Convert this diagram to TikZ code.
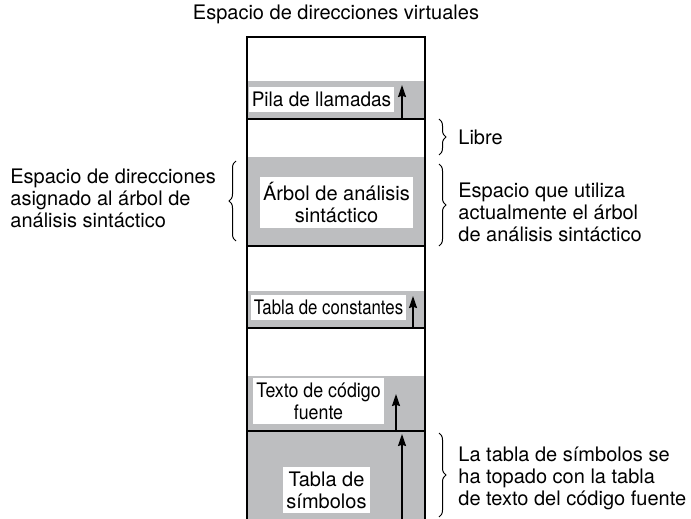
\documentclass[tikz,border=0pt]{standalone}
\usepackage{fontspec}
\setmainfont{TeX Gyre Heros}
\usepackage{graphicx}
\usetikzlibrary{arrows.meta,decorations.pathreplacing}
\definecolor{segfill}{RGB}{189,190,192}
\newcommand{\narrow}[2]{\scalebox{#1}[1]{#2}}

\begin{document}
\begin{tikzpicture}[x=0.5pt,y=-0.5pt,
  seg/.style={fill=segfill},
  wall/.style={line width=1pt},
  seglabel/.style={fill=white,inner xsep=1.5pt,inner ysep=2.5pt,align=center},
  note/.style={anchor=west,align=left,inner sep=0pt},
  growth/.style={-{Stealth[length=6pt,width=4pt,inset=0.6pt]},line width=0.75pt},
  curly/.style={decorate,decoration={brace,amplitude=3.5pt},line width=0.5pt},
  every node/.style={font=\fontsize{10}{11}\selectfont}]
 \useasboundingbox (0,0) rectangle (691,519);
 % filled parts of the address space, top to bottom
 \fill[seg] (247,81) rectangle (425,119);
 \fill[seg] (247,157) rectangle (425,246);
 \fill[seg] (247,291) rectangle (425,328);
 \fill[seg] (247,376) rectangle (425,519);
 \draw[wall] (247,519) -- (247,37) -- (425,37) -- (425,519);
 \foreach \yy in {119,246,328,431} \draw[wall] (247,\yy) -- (425,\yy);

 \node (title) at (336,14) {Espacio de direcciones virtuales};
 \node[seglabel] (pila) at (321.5,99.5) {\narrow{0.95}{Pila de llamadas}};
 \node[seglabel] (arbol) at (336.5,202.5) {Árbol de análisis\\sintáctico};
 \node[seglabel] (const) at (328.5,307.5) {\narrow{0.84}{Tabla de constantes}};
 \node[seglabel] (fuente) at (318.5,401) {\narrow{0.89}{Texto de código}\\\narrow{0.89}{fuente}};
 \node[seglabel] (simb) at (326.5,490) {Tabla de\\símbolos};

 % growth arrows
 \coordinate (pila-s) at (402,119);   \coordinate (pila-e) at (402,85);
 \coordinate (const-s) at (413,328);  \coordinate (const-e) at (413,296);
 \coordinate (fuente-s) at (396,431); \coordinate (fuente-e) at (396,394);
 \coordinate (simb-s) at (402,519);   \coordinate (simb-e) at (402,434);
 \draw[growth] (pila-s) -- (pila-e);
 \draw[growth] (const-s) -- (const-e);
 \draw[growth] (fuente-s) -- (fuente-e);
 \draw[growth] (simb-s) -- (simb-e);

 \draw[curly] (439,119) -- (439,155);
 \draw[curly] (439,164) -- (439,246);
 \draw[curly] (236,241) -- (236,161);
 \draw[curly] (439,433) -- (439,517);
 \node[note] (libre) at (458,137) {Libre};
 \node[note] (uso) at (458,212.7) {Espacio que utiliza\\actualmente el árbol\\de análisis sintáctico};
 \node[note] (asig) at (10,198.2) {Espacio de direcciones\\asignado al árbol de\\análisis sintáctico};
 \node[note] (choque) at (458,478) {La tabla de símbolos se\\ha topado con la tabla\\de texto del código fuente};
\end{tikzpicture}
\end{document}
